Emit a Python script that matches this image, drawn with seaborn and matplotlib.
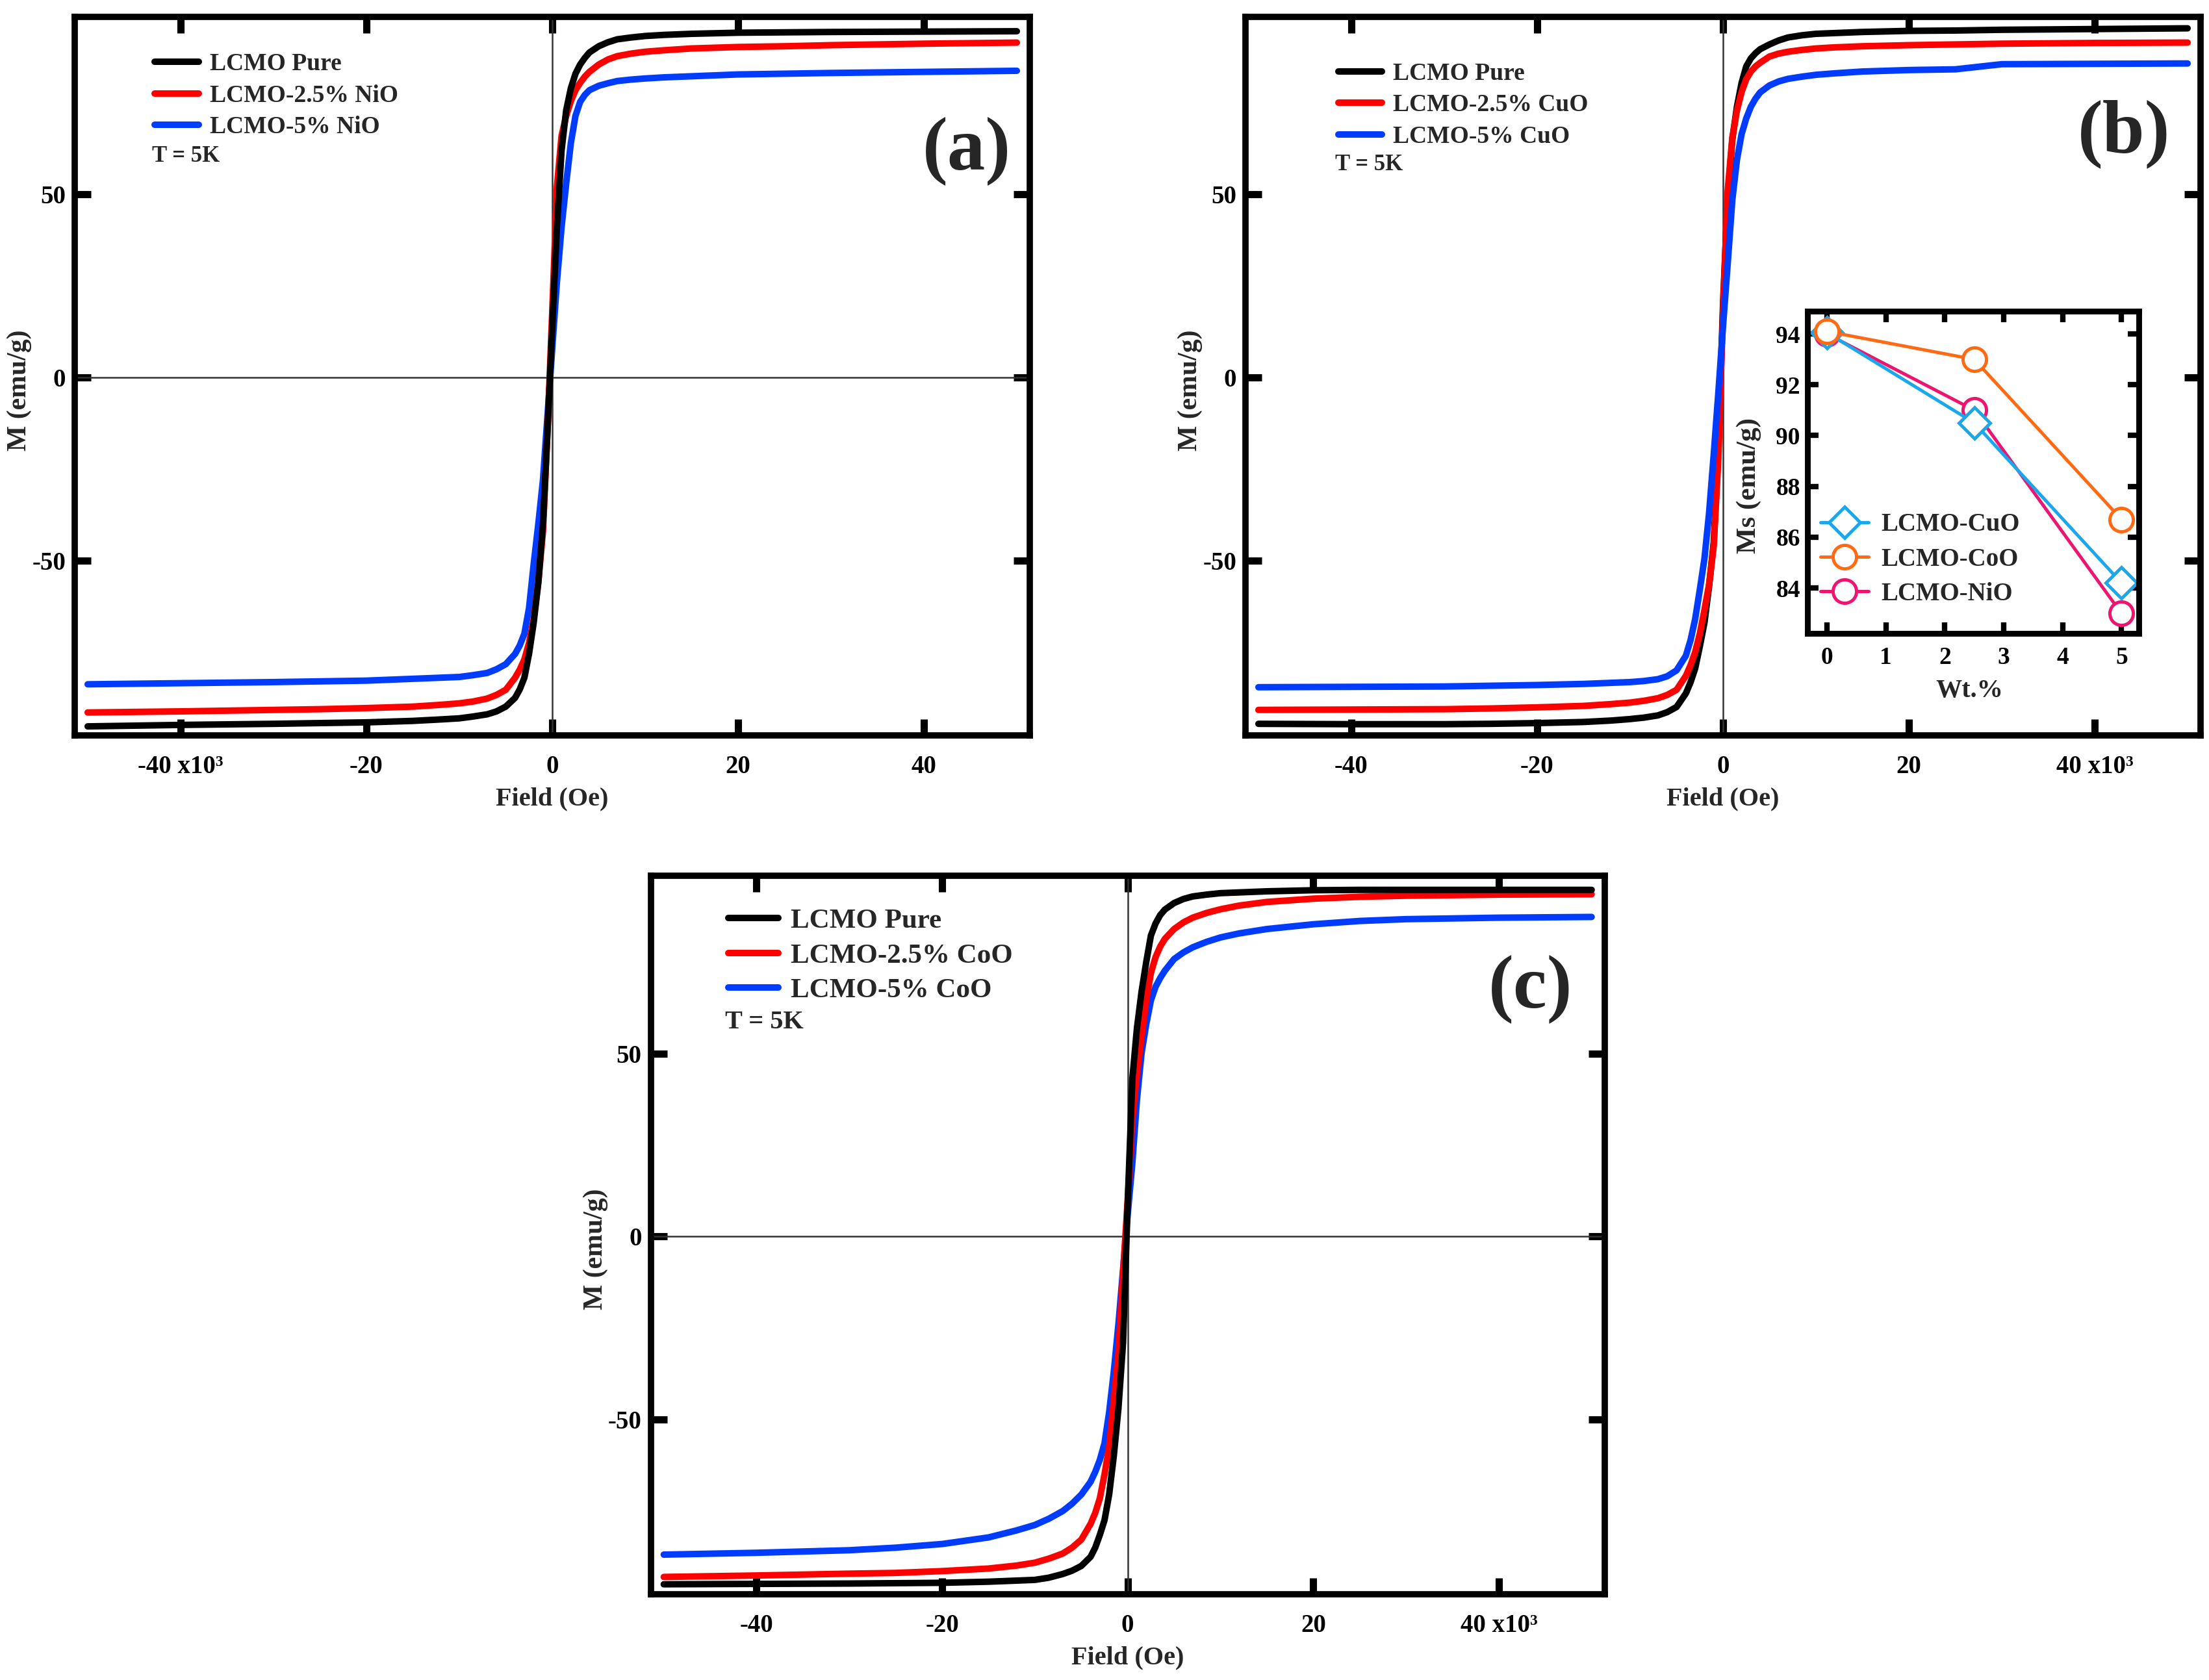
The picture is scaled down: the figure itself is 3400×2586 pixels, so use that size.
import matplotlib
matplotlib.use('Agg')
import matplotlib.pyplot as plt
import seaborn as sns

# applied field, in units of 10^3 Oe
field = [-50, -40, -30, -25, -20, -15, -12, -10, -8.5, -7, -6, -5, -4, -3.5, -3, -2.5, -2, -1.5, -1, -0.5,
         0, 0.5, 1, 1.5, 2, 2.5, 3, 3.5, 4, 5, 6, 7, 8.5, 10, 12, 15, 20, 25, 30, 40, 50]

# (a) NiO series, M in emu/g
a_pure = [-95.3, -94.9, -94.6, -94.4, -94.2, -93.8, -93.4, -93.1, -92.6, -92.0, -91.2, -89.9, -87.5, -85.2, -82.0,
          -75.5, -67.0, -56.0, -40.0, -14.0,
          14.0, 41.0, 62.0, 73.0, 79.0, 83.0, 85.5, 87.3, 88.8, 90.5, 91.6, 92.4, 92.9, 93.3, 93.6, 93.9,
          94.2, 94.3, 94.4, 94.5, 94.6]
a_25 = [-91.5, -91.2, -90.8, -90.6, -90.3, -89.9, -89.4, -89.0, -88.5, -87.7, -86.7, -85.3, -82.0, -79.8, -77.0,
        -72.5, -66.0, -56.0, -42.0, -14.0,
        18.0, 52.0, 66.0, 71.5, 75.5, 78.5, 80.5, 82.2, 83.5, 85.5, 86.9, 87.8, 88.5, 89.0, 89.4, 89.9,
        90.3, 90.5, 90.8, 91.2, 91.5]
a_5 = [-83.8, -83.5, -83.2, -83.0, -82.8, -82.3, -82.0, -81.8, -81.3, -80.7, -79.7, -78.3, -75.5, -73.2, -70.0,
       -63.0, -51.0, -40.0, -28.0, -10.0,
       8.0, 26.0, 41.0, 53.0, 64.0, 71.5, 75.3, 77.2, 78.5, 79.7, 80.4, 81.0, 81.4, 81.7, 82.0, 82.3,
       82.8, 83.0, 83.2, 83.5, 83.8]

# (b) CuO series
b_pure = [-94.6, -94.7, -94.7, -94.6, -94.4, -94.1, -93.7, -93.3, -92.9, -92.3, -91.4, -90.0, -86.3, -83.3, -79.5,
          -73.5, -67.0, -57.0, -45.0, -20.0,
          20.0, 49.0, 65.0, 74.0, 80.5, 85.0, 87.2, 88.6, 89.7, 91.0, 92.1, 92.9, 93.5, 93.9, 94.1, 94.4,
          94.7, 94.8, 95.0, 95.2, 95.4]
b_25 = [-90.8, -90.7, -90.6, -90.4, -90.1, -89.7, -89.2, -88.8, -88.3, -87.6, -86.7, -85.3, -81.5, -78.6, -75.0,
        -70.0, -63.5, -56.5, -46.0, -22.0,
        18.0, 51.0, 65.5, 73.0, 78.0, 81.5, 83.6, 85.0, 86.0, 87.7, 88.5, 89.0, 89.5, 89.9, 90.2, 90.5,
        90.8, 91.0, 91.2, 91.4, 91.5]
b_5 = [-84.6, -84.5, -84.4, -84.2, -84.0, -83.7, -83.4, -83.2, -82.9, -82.4, -81.6, -80.0, -76.0, -71.8, -66.0,
       -58.0, -49.5, -37.0, -21.0, -4.0,
       14.0, 31.0, 48.5, 59.5, 66.5, 70.8, 74.0, 76.2, 77.9, 79.8, 80.9, 81.6, 82.2, 82.7, 83.1, 83.6,
       84.0, 84.2, 85.6, 85.7, 85.8]

# (c) CoO series
c_pure = [-95.0, -94.9, -94.8, -94.7, -94.6, -94.3, -94.0, -93.8, -93.2, -92.2, -91.3, -90.0, -87.5, -85.0, -81.5,
          -77.5, -70.5, -60.0, -47.0, -29.0,
          9.0, 43.0, 57.0, 67.0, 75.0, 82.2, 85.5, 87.8, 89.3, 91.1, 92.2, 92.9, 93.4, 93.8, 94.0, 94.3,
          94.6, 94.7, 94.7, 94.7, 94.7]
c_25 = [-93.0, -92.6, -92.1, -91.9, -91.4, -90.7, -89.9, -89.1, -88.0, -86.6, -85.0, -82.8, -78.5, -75.5, -71.5,
        -65.0, -57.5, -45.0, -32.0, -10.0,
        10.0, 32.0, 44.5, 54.7, 64.5, 72.0, 76.3, 79.2, 81.3, 84.0, 85.8, 87.1, 88.4, 89.4, 90.4, 91.4,
        92.3, 92.8, 93.1, 93.4, 93.5]
c_5 = [-86.9, -86.4, -85.7, -85.0, -84.0, -82.2, -80.3, -78.8, -77.1, -75.0, -73.0, -70.5, -67.0, -64.3, -61.0,
       -56.5, -48.0, -37.0, -24.0, -9.0,
       6.0, 20.0, 37.5, 50.2, 58.0, 64.5, 68.2, 70.6, 72.6, 75.8, 77.6, 79.0, 80.5, 81.7, 82.8, 84.0,
       85.3, 86.2, 86.7, 87.1, 87.3]

# inset: saturation magnetisation vs additive content
wt = [0, 2.5, 5]
ms_cuo = [94.05, 90.5, 84.2]
ms_coo = [94.1, 93.0, 86.7]
ms_nio = [94.0, 91.0, 83.0]

sns.set_theme(style='ticks')
plt.rcParams['font.family'] = ['Liberation Serif', 'DejaVu Serif']
plt.rcParams['font.weight'] = 'bold'
plt.rcParams['axes.labelweight'] = 'bold'

BLACK, RED, BLUE = '#000000', '#ff0000', '#003cff'

fig = plt.figure(figsize=(17, 12.93), dpi=200)


def mh_panel(rect, series, legend_order, tag, tag_xy, leg_xy, t_xy, fs, spacing, xticklabels, hline=True):
    ax = fig.add_axes(rect)
    ax.axvline(0, color='#333333', lw=0.9, zorder=1)
    if hline:
        ax.axhline(0, color='#333333', lw=0.9, zorder=1)
    # draw order differs per panel (topmost curve last)
    for z, (m, color, label) in enumerate(series):
        sns.lineplot(x=field, y=m, ax=ax, color=color, linewidth=3.6, label=label,
                     sort=False, estimator=None, zorder=2 + z)
    h, l = ax.get_legend_handles_labels()
    hd = dict(zip(l, h))
    ax.legend([hd[k] for k in legend_order], legend_order, loc='upper left', bbox_to_anchor=leg_xy,
              frameon=False, fontsize=fs, handlelength=1.8, handletextpad=0.45,
              labelspacing=spacing, borderpad=0, borderaxespad=0)
    ax.text(t_xy[0], t_xy[1], 'T = 5K', transform=ax.transAxes, ha='left', va='center',
            fontsize=fs - 1, fontweight='bold')
    ax.text(tag_xy[0], tag_xy[1], tag, transform=ax.transAxes, ha='center', va='center',
            fontsize=42, fontweight='bold')
    ax.set_xlim(-51.4, 51.4)
    ax.set_ylim(-97.7, 98.5)
    ax.set_xticks([-40, -20, 0, 20, 40], xticklabels)
    ax.set_yticks([-50, 0, 50], ['-50', '0', '50'])
    ax.tick_params(direction='in', length=9, width=4, top=True, right=True,
                   labelsize=14, color='black', labelcolor='black')
    ax.tick_params(axis='x', pad=11)
    ax.tick_params(axis='y', pad=5)
    for sp in ax.spines.values():
        sp.set_linewidth(3.5)
        sp.set_color('black')
    ax.set_xlabel('Field (Oe)', fontsize=14.5)
    ax.set_ylabel('M (emu/g)', fontsize=15)
    ax.xaxis.set_label_coords(0.5, -0.072)
    ax.yaxis.set_label_coords(-0.045, 0.48)
    return ax


lab_left = ['-40 x10\u00b3', '-20', '0', '20', '40']
lab_right = ['-40', '-20', '0', '20', '40 x10\u00b3']

mh_panel([0.0338, 0.5624, 0.4324, 0.4275],
         [(a_5, BLUE, 'LCMO-5% NiO'), (a_25, RED, 'LCMO-2.5% NiO'), (a_pure, BLACK, 'LCMO Pure')],
         ['LCMO Pure', 'LCMO-2.5% NiO', 'LCMO-5% NiO'],
         '(a)', (0.934, 0.814), (0.084, 0.950), (0.081, 0.806), 13.5, 0.36, lab_left)

mh_panel([0.5638, 0.5624, 0.4324, 0.4275],
         [(b_pure, BLACK, 'LCMO Pure'), (b_25, RED, 'LCMO-2.5% CuO'), (b_5, BLUE, 'LCMO-5% CuO')],
         ['LCMO Pure', 'LCMO-2.5% CuO', 'LCMO-5% CuO'],
         '(b)', (0.920, 0.837), (0.097, 0.937), (0.094, 0.794), 13.5, 0.36, lab_right, hline=False)

mh_panel([0.2946, 0.0511, 0.4318, 0.4275],
         [(c_5, BLUE, 'LCMO-5% CoO'), (c_25, RED, 'LCMO-2.5% CoO'), (c_pure, BLACK, 'LCMO Pure')],
         ['LCMO Pure', 'LCMO-2.5% CoO', 'LCMO-5% CoO'],
         '(c)', (0.922, 0.843), (0.081, 0.955), (0.078, 0.796), 15.5, 0.33, lab_right)

# inset in panel (b)
ax_in = fig.add_axes([0.8182, 0.6228, 0.1499, 0.192])
ax_in.set_facecolor('white')
inset = [(ms_nio, '#ee1571', 'o', 'LCMO-NiO'),
         (ms_cuo, '#1aa7ec', 'D', 'LCMO-CuO'),
         (ms_coo, '#ff6a13', 'o', 'LCMO-CoO')]
for ms, color, mk, label in inset:
    sns.lineplot(x=wt, y=ms, ax=ax_in, color=color, linewidth=1.8, marker=mk,
                 markersize=13 if mk == 'o' else 12, markerfacecolor='white',
                 markeredgecolor=color, markeredgewidth=1.8, label=label)
h, l = ax_in.get_legend_handles_labels()
hd = dict(zip(l, h))
leg_order = ['LCMO-CuO', 'LCMO-CoO', 'LCMO-NiO']
ax_in.legend([hd[k] for k in leg_order], leg_order, loc='upper left', bbox_to_anchor=(0.04, 0.375),
             frameon=False, fontsize=14, handlelength=1.9, handletextpad=0.5,
             labelspacing=0.42, borderpad=0, borderaxespad=0)
ax_in.set_xlim(-0.335, 5.29)
ax_in.set_ylim(82.2, 94.9)
ax_in.set_xticks(range(6))
ax_in.set_yticks([84, 86, 88, 90, 92, 94])
ax_in.tick_params(direction='in', length=6, width=3, top=True, right=True,
                  labelsize=13.5, color='black', labelcolor='black')
ax_in.tick_params(axis='x', pad=7)
ax_in.tick_params(axis='y', pad=4)
for sp in ax_in.spines.values():
    sp.set_linewidth(3.2)
    sp.set_color('black')
ax_in.set_xlabel('Wt.%', fontsize=14.5)
ax_in.set_ylabel('Ms (emu/g)', fontsize=15.5)
ax_in.xaxis.set_label_coords(0.489, -0.14)
ax_in.yaxis.set_label_coords(-0.14, 0.46)

fig.savefig('out.png', dpi=200, facecolor='white')
